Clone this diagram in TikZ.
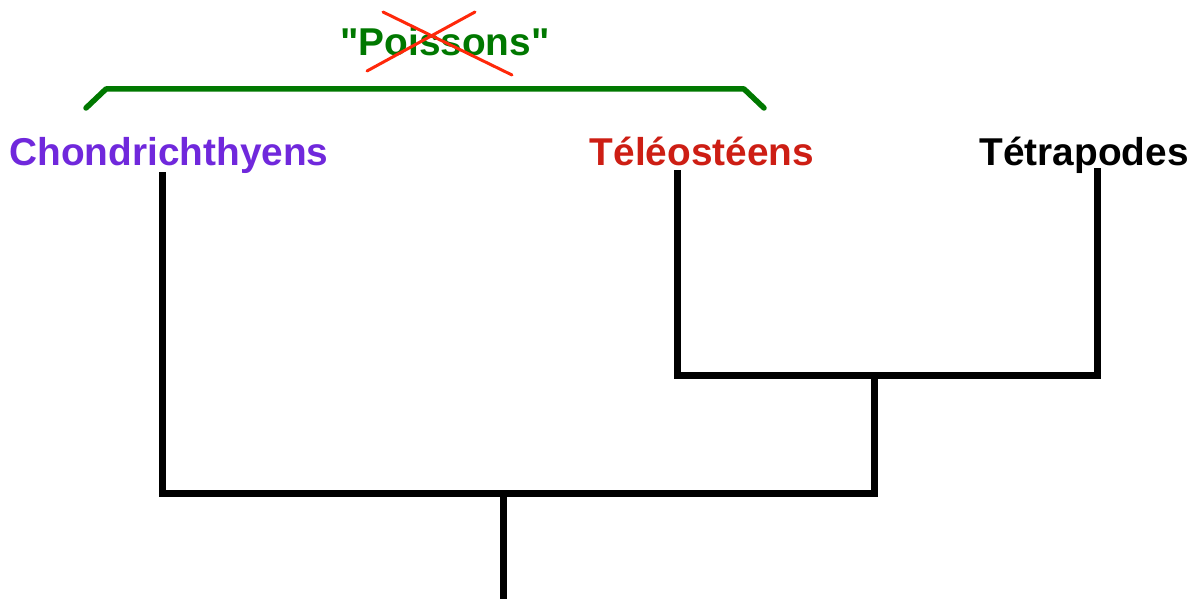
\documentclass[tikz,border=0pt]{standalone}
\usepackage{fontspec}
\setmainfont{Liberation Sans}
\newfontfamily\qf{Liberation Sans}[Ligatures=TeXOff]
\definecolor{gr}{RGB}{0,120,0}
\definecolor{pu}{RGB}{112,40,220}
\definecolor{rd}{RGB}{205,30,20}
\definecolor{xr}{RGB}{255,40,10}
\begin{document}
\begin{tikzpicture}[x=1pt,y=-1pt,
  lbl/.style={font=\fontsize{38.8}{40}\selectfont\bfseries, inner sep=0pt, anchor=base},
  br/.style={line width=7pt, line cap=rect, line join=miter}]
\useasboundingbox (0,0) rectangle (1198,599);
\node[lbl, text=pu] (ch) at (169,165) {Chondrichthyens};
\node[lbl, text=rd] (te) at (702,165) {Téléostéens};
\node[lbl] (tt) at (1084,165) {Tétrapodes};
\node[lbl, text=gr] (po) at (445,56) {\qf\bfseries "Poissons"};
\coordinate (chb) at (162,175);
\coordinate (teb) at (677,173);
\coordinate (ttb) at (1097,171);
\coordinate (j1) at (874,375);
\coordinate (j2) at (503,493);
\coordinate (root) at (503,603);
\draw[br] (chb) -- (162,493) -- (874,493) -- (j1);
\draw[br] (teb) -- (677,375) -- (1097,375) -- (ttb);
\draw[br, line cap=butt] (j2) -- (root);
\draw[gr, line width=5.5pt, line cap=round, line join=round] (86,108) -- (106,89) -- (744,89) -- (764,108);
\draw[xr, line width=3pt, line cap=round] (383,12) -- (512,75);
\draw[xr, line width=3pt, line cap=round] (367,71) -- (475,12);
\end{tikzpicture}
\end{document}
